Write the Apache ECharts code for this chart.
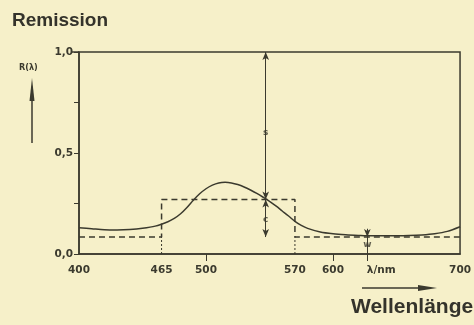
<!DOCTYPE html>
<html><head><meta charset="utf-8">
<script src="https://cdn.jsdelivr.net/npm/echarts@6/dist/echarts.min.js"></script>
<style>html,body{margin:0;padding:0;background:#f6f0c9;}#c{width:474px;height:325px;}</style>
</head><body><div id="c"></div>
<script>
// Measured remission curve R(λ)
const wavelengths = [400,410,420,430,440,450,460,470,475,480,485,490,495,500,505,510,515,520,525,530,535,540,545,550,555,560,565,570,575,580,590,600,610,620,630,640,650,660,670,680,690,700];
const remission   = [0.13,0.125,0.12,0.119,0.121,0.127,0.138,0.16,0.176,0.199,0.23,0.266,0.298,0.323,0.341,0.352,0.355,0.352,0.344,0.332,0.317,0.3,0.281,0.261,0.238,0.213,0.188,0.162,0.142,0.127,0.109,0.1,0.095,0.092,0.09,0.09,0.09,0.091,0.094,0.1,0.112,0.135];
// Idealized rectangular filter (dashed)
const idealX = [400,465,465,570,570,700];
const idealY = [0.084,0.084,0.27,0.27,0.084,0.084];
// Axis labels
const xLabelValues = [400,465,500,570,600,638,700];
const xLabelTexts  = ['400','465','500','570','600','λ/nm','700'];
const xTickValues  = [500,600,627];
const yLabels = {0:'0,0',0.5:'0,5',1:'1,0'};
// Annotation markers
const sLine = {x:547, top:1.0, mid:0.27, bottom:0.084};
const wLine = {x:627, top:0.125, bottom:0};
const annotations = [[547,0.6,'s'],[547,0.17,'c'],[627,0.048,'w']];

const ink = '#3b3a2e';
const bg = '#f6f0c9';
const tickFont = 'DejaVu Sans';
const chart = echarts.init(document.getElementById('c'));
chart.setOption({
  backgroundColor: bg,
  animation:false,
  grid:{left:79,right:9,top:52,bottom:71,show:true,borderColor:ink,borderWidth:1.5,backgroundColor:'transparent'},
  xAxis:{type:'value',min:400,max:700,
    axisLine:{lineStyle:{color:ink,width:1.5}},
    splitLine:{show:false},
    axisTick:{show:true,customValues:xTickValues,length:7,lineStyle:{color:ink,width:1}},
    axisLabel:{customValues:xLabelValues,color:ink,fontSize:10.5,fontWeight:'bold',fontFamily:tickFont,margin:11,
      formatter:v=>{const i=xLabelValues.indexOf(v);return i>=0?xLabelTexts[i]:'';}}
  },
  yAxis:{type:'value',min:0,max:1,interval:0.25,
    axisLine:{lineStyle:{color:ink,width:1.5}},
    splitLine:{show:false},
    axisTick:{show:true,length:5,lineStyle:{color:ink,width:1}},
    axisLabel:{color:ink,fontSize:10.5,fontWeight:'bold',fontFamily:tickFont,margin:6,
      formatter:v=>yLabels[v]!==undefined?yLabels[v]:''}
  },
  series:[
    {type:'line',data:wavelengths.map((x,i)=>[x,remission[i]]),smooth:0.3,showSymbol:false,
      lineStyle:{color:ink,width:1.5}},
    {type:'line',data:idealX.map((x,i)=>[x,idealY[i]]),showSymbol:false,
      lineStyle:{color:ink,width:1.5,type:[6,4]},
      markLine:{silent:true,symbolSize:[5,8],lineStyle:{color:ink,width:1,type:'solid'},label:{show:false},
        data:[
          [{coord:[sLine.x,sLine.top],symbol:'arrow'},{coord:[sLine.x,sLine.mid],symbol:'arrow'}],
          [{coord:[sLine.x,sLine.mid],symbol:'arrow'},{coord:[sLine.x,sLine.bottom],symbol:'arrow'}],
          [{coord:[wLine.x,wLine.top],symbol:'none'},{coord:[wLine.x,idealY[5]],symbol:'arrow'}],
          [{coord:[wLine.x,idealY[5]],symbol:'none'},{coord:[wLine.x,wLine.bottom],symbol:'none'}]
        ]}
    },
    {type:'line',data:[[465,0],[465,0.084]],showSymbol:false,lineStyle:{color:ink,width:1,type:[2,2]}},
    {type:'line',data:[[570,0],[570,0.084]],showSymbol:false,lineStyle:{color:ink,width:1,type:[2,2]}},
    {type:'scatter',data:annotations,symbolSize:0,
      label:{show:true,position:'inside',formatter:p=>p.data[2],color:ink,fontSize:9,fontWeight:'bold',
        fontFamily:tickFont,backgroundColor:bg,padding:[0,1]}}
  ],
  graphic:[
    {type:'text',left:12,top:11,style:{text:'Remission',fill:'#34332b',font:'bold 19px "Liberation Sans", Arial, sans-serif'}},
    {type:'text',left:351,top:297,style:{text:'Wellenlänge',fill:'#34332b',font:'bold 21px "Liberation Sans", Arial, sans-serif'}},
    {type:'text',left:19,top:63,style:{text:'R(λ)',fill:ink,font:'bold 9px "DejaVu Sans Condensed", sans-serif'}},
    {type:'line',shape:{x1:32,y1:143,x2:32,y2:95},style:{stroke:ink,lineWidth:1.5}},
    {type:'polygon',shape:{points:[[29.5,101],[32,78],[34.5,101]]},style:{fill:ink}},
    {type:'line',shape:{x1:362,y1:288,x2:428,y2:288},style:{stroke:ink,lineWidth:1.5}},
    {type:'polygon',shape:{points:[[418,285],[437,288],[418,291]]},style:{fill:ink}},
    {type:'line',shape:{x1:71,y1:52,x2:79,y2:52},style:{stroke:ink,lineWidth:1.5}}
  ]
});
</script></body></html>
